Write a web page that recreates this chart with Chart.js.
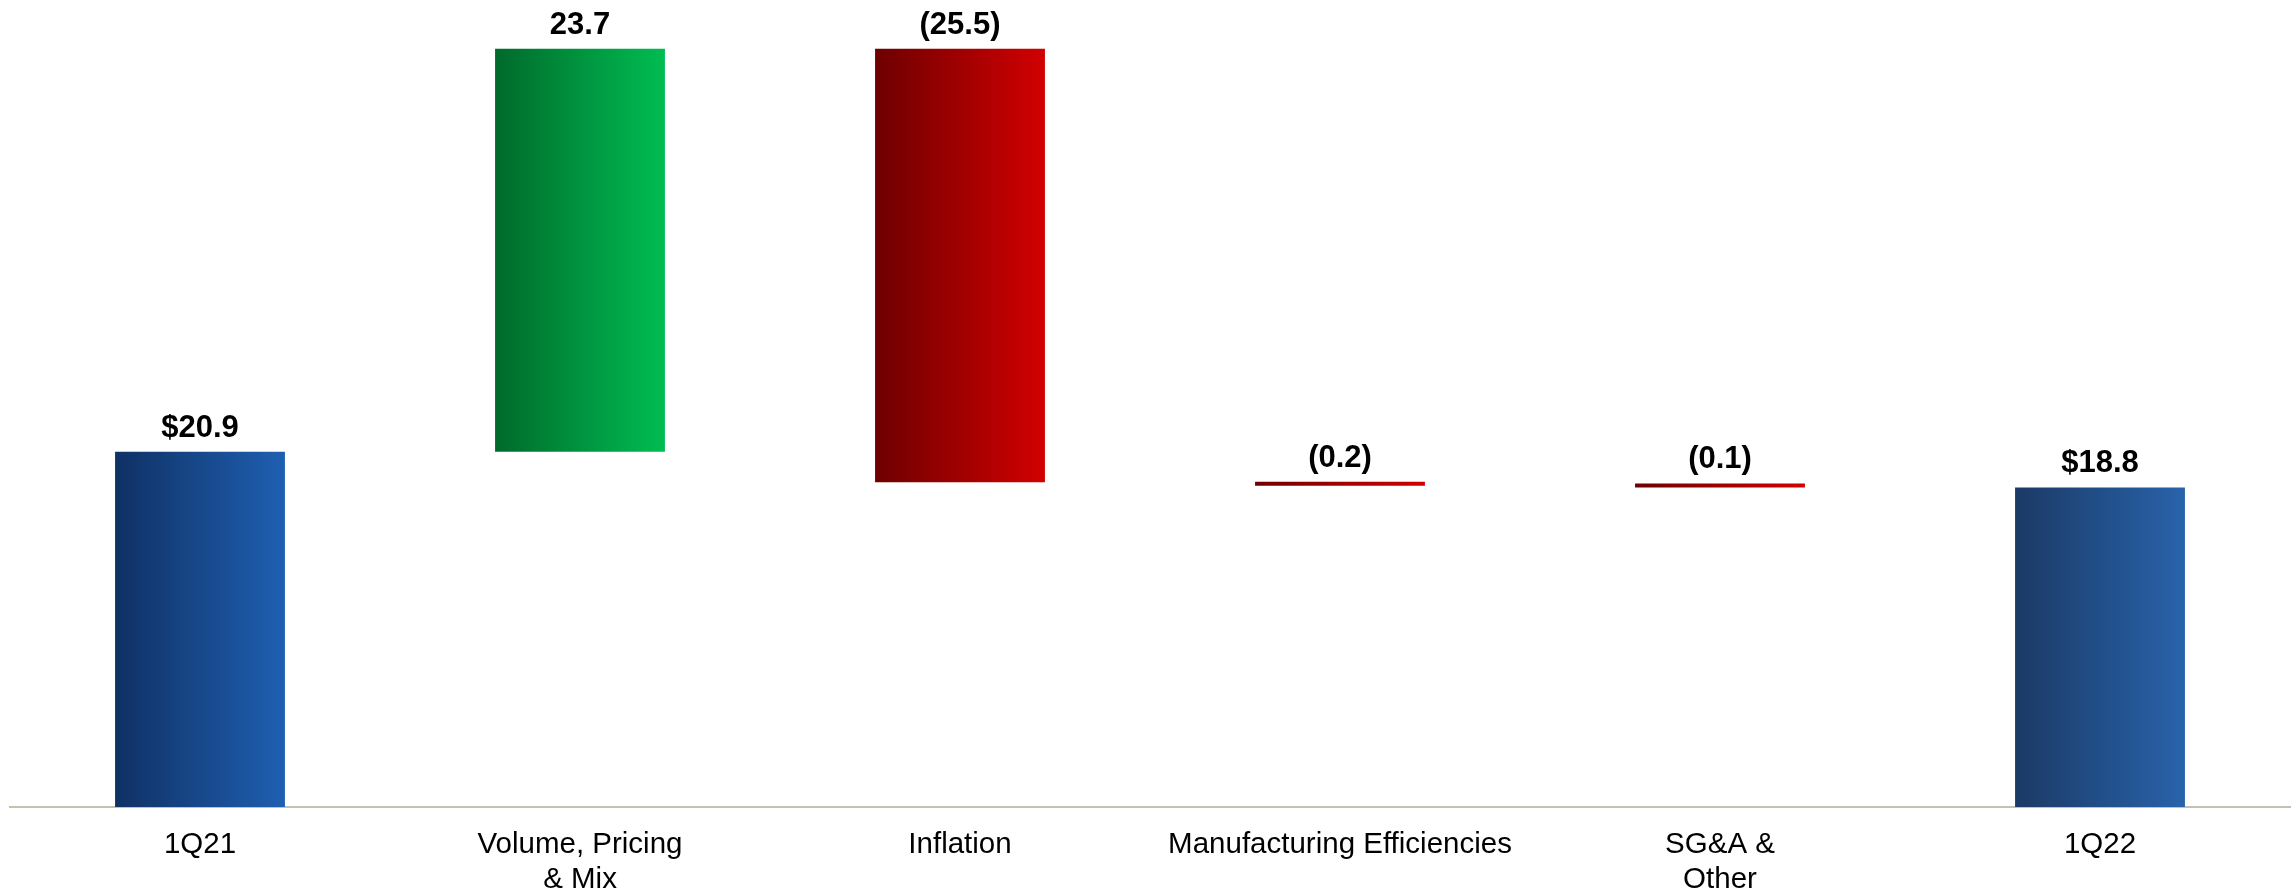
<!DOCTYPE html>
<html>
<head>
<meta charset="utf-8">
<script src="https://cdn.jsdelivr.net/npm/chart.js@4"></script>
<style>
  html, body { margin: 0; padding: 0; background: #ffffff; }
  #wrap { width: 2295px; height: 893px; position: relative; }
</style>
</head>
<body>
<div id="wrap"><canvas id="bridge"></canvas></div>
<script>
// bridge data ($M)
const categories = [
  "1Q21",
  ["Volume, Pricing", "& Mix"],
  "Inflation",
  "Manufacturing Efficiencies",
  ["SG&A &", "Other"],
  "1Q22",
];
const startValue = 20.9;
const changes = [23.7, -25.5, -0.2, -0.1];
const endValue = 18.8;

// left -> right gradient stops per bar
const gradients = [
  ["#0f3164", "#1f5fb1"],
  ["#006a2b", "#00bd52"],
  ["#6e0000", "#d20000"],
  ["#6e0000", "#d20000"],
  ["#6e0000", "#d20000"],
  ["#1b3a66", "#2863aa"],
];

const BAR_FRACTION = 0.447;

// floating ranges for the waterfall
var ranges = [[0, startValue]];
var running = startValue;
for (let i = 0; i < changes.length; i++) {
  ranges.push([running, running + changes[i]]);
  running = running + changes[i];
}
ranges.push([0, endValue]);

var labels = [];
labels.push("$" + startValue.toFixed(1));
changes.forEach(function (c) {
  labels.push(c < 0 ? "(" + Math.abs(c).toFixed(1) + ")" : c.toFixed(1));
});
labels.push("$" + endValue.toFixed(1));

function barFill(context) {
  const chart = context.chart;
  const xs = chart.scales.x;
  const stops = gradients[context.dataIndex];
  if (!xs || !chart.chartArea) return stops[1];
  const cx = xs.getPixelForValue(context.dataIndex);
  const half = (xs.width / categories.length) * BAR_FRACTION / 2;
  const g = chart.ctx.createLinearGradient(cx - half, 0, cx + half, 0);
  g.addColorStop(0, stops[0]);
  g.addColorStop(1, stops[1]);
  return g;
}

const valueLabels = {
  id: "valueLabels",
  afterDatasetsDraw(chart) {
    const ctx = chart.ctx;
    const meta = chart.getDatasetMeta(0);
    ctx.save();
    ctx.font = "bold 31px 'Liberation Sans', Arial, sans-serif";
    ctx.fillStyle = "#000000";
    ctx.textAlign = "center";
    ctx.textBaseline = "alphabetic";
    meta.data.forEach(function (el, i) {
      const top = Math.min(el.y, el.base);
      ctx.fillText(labels[i], el.x, top - 15);
    });
    ctx.restore();
  },
};

new Chart(document.getElementById("bridge"), {
  type: "bar",
  data: {
    labels: categories,
    datasets: [
      {
        data: ranges,
        backgroundColor: barFill,
        borderWidth: 0,
        categoryPercentage: 1,
        barPercentage: BAR_FRACTION,
        minBarLength: 4,
      },
    ],
  },
  options: {
    responsive: true,
    maintainAspectRatio: false,
    animation: false,
    layout: { padding: { left: 10, right: 5, top: 8, bottom: 0 } },
    plugins: {
      legend: { display: false },
      tooltip: { enabled: false },
    },
    scales: {
      x: {
        grid: { display: false, drawTicks: false },
        border: { display: true, color: "#c2c3ae", width: 2 },
        ticks: {
          color: "#000000",
          padding: 20,
          maxRotation: 0,
          autoSkip: false,
          font: { family: "'Liberation Sans', Arial, sans-serif", size: 29.5 },
        },
        afterFit: function (scale) {
          scale.height = 86;
        },
      },
      y: {
        display: false,
        min: 0,
        max: 47,
      },
    },
  },
  plugins: [valueLabels],
});
</script>
</body>
</html>
